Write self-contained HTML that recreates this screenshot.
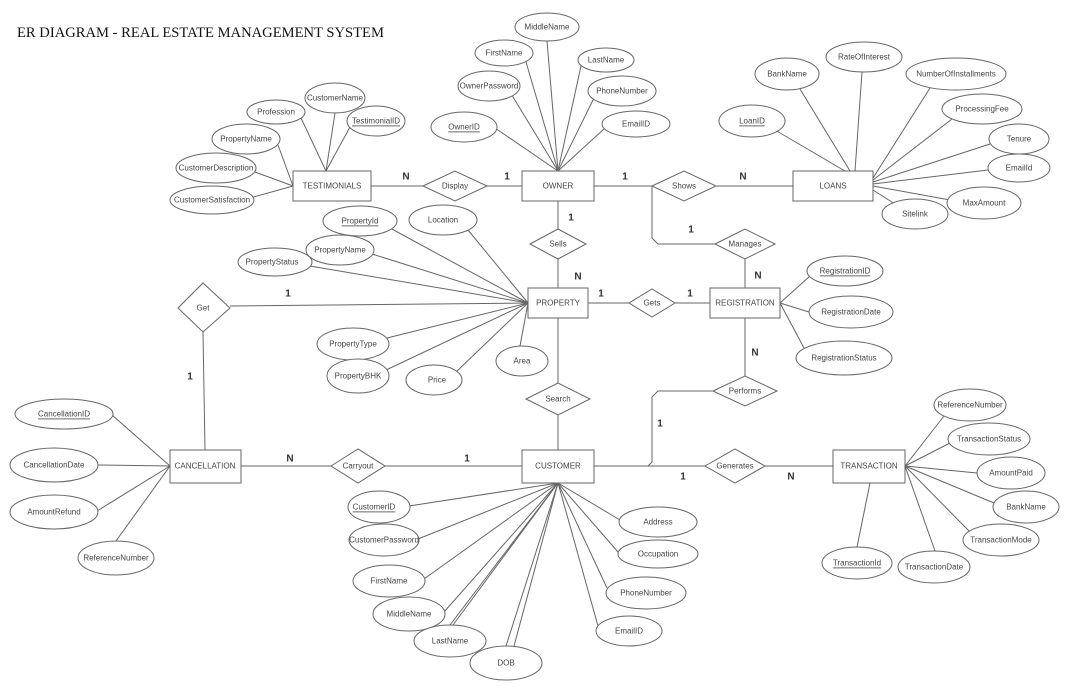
<!DOCTYPE html>
<html><head><meta charset="utf-8"><style>
html,body{margin:0;padding:0;background:#fff;}
svg{display:block;}
text{font-family:"Liberation Sans",sans-serif;font-size:8px;fill:#444;text-anchor:middle;dominant-baseline:central;}
.t{font-family:"Liberation Serif",serif;font-size:14.6px;fill:#111;text-anchor:start;dominant-baseline:auto;}
.c{font-size:10px;fill:#333;font-weight:bold;}
line,polyline{stroke:#666;stroke-width:1;fill:none;}
ellipse,rect,polygon{stroke:#666;stroke-width:1;fill:#fff;}
</style></head><body>
<svg width="1068" height="692" viewBox="0 0 1068 692" xmlns="http://www.w3.org/2000/svg">
<text class="t" x="17" y="37">ER DIAGRAM - REAL ESTATE MANAGEMENT SYSTEM</text>
<g>
<line x1="558" y1="171" x2="547" y2="41"/><line x1="558" y1="171" x2="526" y2="62"/><line x1="558" y1="171" x2="581" y2="66"/>
<line x1="558" y1="171" x2="510" y2="92"/><line x1="558" y1="171" x2="594" y2="98"/><line x1="558" y1="171" x2="495" y2="128"/><line x1="558" y1="171" x2="604" y2="129"/>
<line x1="326" y1="171" x2="335" y2="113"/><line x1="326" y1="171" x2="301" y2="118"/><line x1="326" y1="171" x2="350" y2="127"/>
<line x1="293" y1="186" x2="278" y2="145"/><line x1="293" y1="186" x2="255" y2="172"/><line x1="293" y1="186" x2="250" y2="198"/>
<line x1="850" y1="171" x2="800" y2="89"/><line x1="855" y1="171" x2="862" y2="72"/><line x1="873" y1="178" x2="930" y2="88"/>
<line x1="845" y1="171" x2="775" y2="130"/><line x1="873" y1="180" x2="952" y2="119"/><line x1="873" y1="182" x2="990" y2="144"/>
<line x1="873" y1="184" x2="988" y2="170"/><line x1="873" y1="186" x2="950" y2="200"/><line x1="873" y1="190" x2="895" y2="204"/>
<line x1="528" y1="303" x2="390" y2="228"/><line x1="528" y1="303" x2="468" y2="230"/><line x1="528" y1="303" x2="372" y2="254"/>
<line x1="528" y1="303" x2="310" y2="266"/><line x1="528" y1="303" x2="387" y2="338"/><line x1="528" y1="303" x2="386" y2="370"/>
<line x1="528" y1="303" x2="456" y2="372"/><line x1="528" y1="303" x2="520" y2="346"/>
<line x1="780" y1="303" x2="810" y2="276"/><line x1="780" y1="303" x2="809" y2="312"/><line x1="780" y1="303" x2="804" y2="348"/>
<line x1="170" y1="466" x2="112" y2="415"/><line x1="170" y1="466" x2="98" y2="465"/><line x1="170" y1="466" x2="97" y2="511"/><line x1="170" y1="466" x2="116" y2="541"/>
<line x1="558" y1="483" x2="409" y2="506"/><line x1="558" y1="483" x2="418" y2="539"/><line x1="558" y1="483" x2="424" y2="579"/>
<line x1="558" y1="483" x2="444" y2="612"/><line x1="558" y1="483" x2="453" y2="625"/><line x1="558" y1="483" x2="450" y2="625"/>
<line x1="558" y1="483" x2="506" y2="646"/><line x1="558" y1="483" x2="514" y2="646"/>
<line x1="558" y1="483" x2="620" y2="520"/><line x1="558" y1="483" x2="618" y2="552"/><line x1="558" y1="483" x2="607" y2="588"/><line x1="558" y1="483" x2="598" y2="626"/>
<line x1="905" y1="466" x2="944" y2="416"/><line x1="905" y1="466" x2="950" y2="443"/><line x1="905" y1="466" x2="977" y2="473"/>
<line x1="905" y1="466" x2="994" y2="503"/><line x1="905" y1="466" x2="970" y2="532"/><line x1="905" y1="466" x2="935" y2="551"/><line x1="870" y1="483" x2="857" y2="547"/>
</g>
<line x1="371" y1="186" x2="423" y2="186"/><line x1="487" y1="186" x2="522" y2="186"/>
<line x1="594" y1="186" x2="652" y2="186"/><line x1="716" y1="186" x2="793" y2="186"/>
<polyline points="652,186 652,238 658,244 715,244"/>
<line x1="745" y1="259" x2="745" y2="288"/>
<line x1="558" y1="201" x2="558" y2="229"/><line x1="558" y1="259" x2="558" y2="288"/>
<line x1="230" y1="306" x2="528" y2="303"/>
<line x1="203" y1="332" x2="205" y2="450"/>
<line x1="588" y1="303" x2="629" y2="303"/><line x1="675" y1="303" x2="710" y2="303"/>
<line x1="558" y1="318" x2="558" y2="383"/><line x1="558" y1="415" x2="558" y2="450"/>
<line x1="745" y1="318" x2="745" y2="376"/>
<polyline points="713,391 658,391 652,397 652,462 648,466 594,466"/>
<line x1="594" y1="466" x2="705" y2="466"/><line x1="765" y1="466" x2="833" y2="466"/>
<line x1="241" y1="466" x2="331" y2="466"/><line x1="385" y1="466" x2="522" y2="466"/>
<rect x="293" y="171" width="78" height="30"/><text x="332" y="186">TESTIMONIALS</text>
<rect x="522" y="171" width="72" height="30"/><text x="558" y="186">OWNER</text>
<rect x="793" y="171" width="80" height="30"/><text x="833" y="186">LOANS</text>
<rect x="528" y="288" width="60" height="30"/><text x="558" y="303">PROPERTY</text>
<rect x="710" y="288" width="70" height="30"/><text x="745" y="303">REGISTRATION</text>
<rect x="170" y="450" width="71" height="33"/><text x="205" y="466">CANCELLATION</text>
<rect x="522" y="450" width="72" height="33"/><text x="558" y="466">CUSTOMER</text>
<rect x="833" y="450" width="72" height="33"/><text x="869" y="466">TRANSACTION</text>
<polygon points="423,186 455,171 487,186 455,201"/><text x="455" y="186">Display</text>
<polygon points="652,186 684,171 716,186 684,201"/><text x="684" y="186">Shows</text>
<polygon points="530,244 558,229 586,244 558,259"/><text x="558" y="244">Sells</text>
<polygon points="715,244 745,229 775,244 745,259"/><text x="745" y="244">Manages</text>
<polygon points="178,308 203,283 230,308 203,332"/><text x="203" y="308">Get</text>
<polygon points="629,303 652,289 675,303 652,317"/><text x="652" y="303">Gets</text>
<polygon points="526,399 558,383 590,399 558,415"/><text x="558" y="399">Search</text>
<polygon points="713,391 745,376 777,391 745,406"/><text x="745" y="391">Performs</text>
<polygon points="331,466 358,449 385,466 358,483"/><text x="358" y="466">Carryout</text>
<polygon points="705,466 735,449 765,466 735,483"/><text x="735" y="466">Generates</text>
<text class="c" x="406" y="177">N</text><text class="c" x="507" y="177">1</text>
<text class="c" x="625" y="177">1</text><text class="c" x="743" y="177">N</text>
<text class="c" x="691" y="230">1</text><text class="c" x="758" y="276">N</text>
<text class="c" x="571" y="218">1</text><text class="c" x="578" y="277">N</text>
<text class="c" x="288" y="294">1</text><text class="c" x="190" y="377">1</text>
<text class="c" x="601" y="294">1</text><text class="c" x="690" y="294">1</text>
<text class="c" x="755" y="353">N</text><text class="c" x="660" y="424">1</text>
<text class="c" x="683" y="477">1</text><text class="c" x="791" y="477">N</text>
<text class="c" x="290" y="459">N</text><text class="c" x="467" y="459">1</text>
<g>
<ellipse cx="547" cy="27" rx="32" ry="14"/><text x="547" y="27">MiddleName</text>
<ellipse cx="504" cy="53" rx="29" ry="13"/><text x="504" y="53">FirstName</text>
<ellipse cx="606" cy="60" rx="28" ry="12"/><text x="606" y="60">LastName</text>
<ellipse cx="489" cy="86" rx="31" ry="15"/><text x="489" y="86">OwnerPassword</text>
<ellipse cx="622" cy="91" rx="34" ry="15"/><text x="622" y="91">PhoneNumber</text>
<ellipse cx="464" cy="127" rx="33" ry="15"/><text x="464" y="127" text-decoration="underline">OwnerID</text>
<ellipse cx="636" cy="124" rx="34" ry="13"/><text x="636" y="124">EmailID</text>
<ellipse cx="335" cy="98" rx="30" ry="15"/><text x="335" y="98">CustomerName</text>
<ellipse cx="276" cy="112" rx="29" ry="12"/><text x="276" y="112">Profession</text>
<ellipse cx="376" cy="121" rx="29" ry="15"/><text x="376" y="121" text-decoration="underline">TestimonialID</text>
<ellipse cx="246" cy="139" rx="34" ry="15"/><text x="246" y="139">PropertyName</text>
<ellipse cx="216" cy="168" rx="40" ry="15"/><text x="216" y="168">CustomerDescription</text>
<ellipse cx="212" cy="200" rx="42" ry="14"/><text x="212" y="200">CustomerSatisfaction</text>
<ellipse cx="787" cy="74" rx="32" ry="16"/><text x="787" y="74">BankName</text>
<ellipse cx="864" cy="57" rx="38" ry="15"/><text x="864" y="57">RateOfInterest</text>
<ellipse cx="956" cy="74" rx="50" ry="16"/><text x="956" y="74">NumberOfInstallments</text>
<ellipse cx="752" cy="121" rx="33" ry="16"/><text x="752" y="121" text-decoration="underline">LoanID</text>
<ellipse cx="982" cy="109" rx="40" ry="15"/><text x="982" y="109">ProcessingFee</text>
<ellipse cx="1019" cy="139" rx="30" ry="15"/><text x="1019" y="139">Tenure</text>
<ellipse cx="1019" cy="168" rx="31" ry="14"/><text x="1019" y="168">EmailId</text>
<ellipse cx="984" cy="203" rx="37" ry="16"/><text x="984" y="203">MaxAmount</text>
<ellipse cx="915" cy="214" rx="33" ry="15"/><text x="915" y="214">Sitelink</text>
<ellipse cx="360" cy="221" rx="37" ry="15"/><text x="360" y="221" text-decoration="underline">PropertyId</text>
<ellipse cx="443" cy="220" rx="34" ry="15"/><text x="443" y="220">Location</text>
<ellipse cx="275" cy="262" rx="37" ry="14"/><text x="272" y="262">PropertyStatus</text>
<ellipse cx="340" cy="250" rx="34" ry="15"/><text x="340" y="250">PropertyName</text>
<ellipse cx="353" cy="344" rx="36" ry="16"/><text x="353" y="344">PropertyType</text>
<ellipse cx="358" cy="376" rx="31" ry="17"/><text x="358" y="376">PropertyBHK</text>
<ellipse cx="434" cy="380" rx="28" ry="15"/><text x="437" y="380">Price</text>
<ellipse cx="522" cy="361" rx="26" ry="15"/><text x="522" y="361">Area</text>
<ellipse cx="845" cy="271" rx="38" ry="15"/><text x="845" y="271" text-decoration="underline">RegistrationID</text>
<ellipse cx="851" cy="312" rx="42" ry="16"/><text x="851" y="312">RegistrationDate</text>
<ellipse cx="844" cy="358" rx="48" ry="17"/><text x="844" y="358">RegistrationStatus</text>
<ellipse cx="64" cy="414" rx="49" ry="15"/><text x="64" y="414" text-decoration="underline">CancellationID</text>
<ellipse cx="54" cy="465" rx="44" ry="17"/><text x="54" y="465">CancellationDate</text>
<ellipse cx="54" cy="512" rx="44" ry="17"/><text x="54" y="512">AmountRefund</text>
<ellipse cx="116" cy="558" rx="38" ry="17"/><text x="116" y="558">ReferenceNumber</text>
<ellipse cx="379" cy="507" rx="31" ry="16"/><text x="374" y="507" text-decoration="underline">CustomerID</text>
<ellipse cx="384" cy="540" rx="35" ry="16"/><text x="384" y="540">CustomerPassword</text>
<ellipse cx="389" cy="581" rx="36" ry="16"/><text x="389" y="581">FirstName</text>
<ellipse cx="409" cy="614" rx="36" ry="17"/><text x="409" y="614">MiddleName</text>
<ellipse cx="450" cy="641" rx="36" ry="16"/><text x="450" y="641">LastName</text>
<ellipse cx="506" cy="663" rx="36" ry="17"/><text x="506" y="663">DOB</text>
<ellipse cx="658" cy="522" rx="39" ry="15"/><text x="658" y="522">Address</text>
<ellipse cx="658" cy="554" rx="40" ry="14"/><text x="658" y="554">Occupation</text>
<ellipse cx="646" cy="593" rx="40" ry="16"/><text x="646" y="593">PhoneNumber</text>
<ellipse cx="629" cy="631" rx="33" ry="15"/><text x="629" y="631">EmailID</text>
<ellipse cx="970" cy="405" rx="36" ry="16"/><text x="970" y="405">ReferenceNumber</text>
<ellipse cx="989" cy="439" rx="41" ry="16"/><text x="989" y="439">TransactionStatus</text>
<ellipse cx="1011" cy="473" rx="34" ry="16"/><text x="1011" y="473">AmountPaid</text>
<ellipse cx="1026" cy="507" rx="33" ry="16"/><text x="1026" y="507">BankName</text>
<ellipse cx="1001" cy="540" rx="38" ry="16"/><text x="1001" y="540">TransactionMode</text>
<ellipse cx="934" cy="567" rx="36" ry="16"/><text x="934" y="567">TransactionDate</text>
<ellipse cx="857" cy="563" rx="35" ry="16"/><text x="857" y="563" text-decoration="underline">TransactionId</text>
</g>
</svg>
</body></html>
